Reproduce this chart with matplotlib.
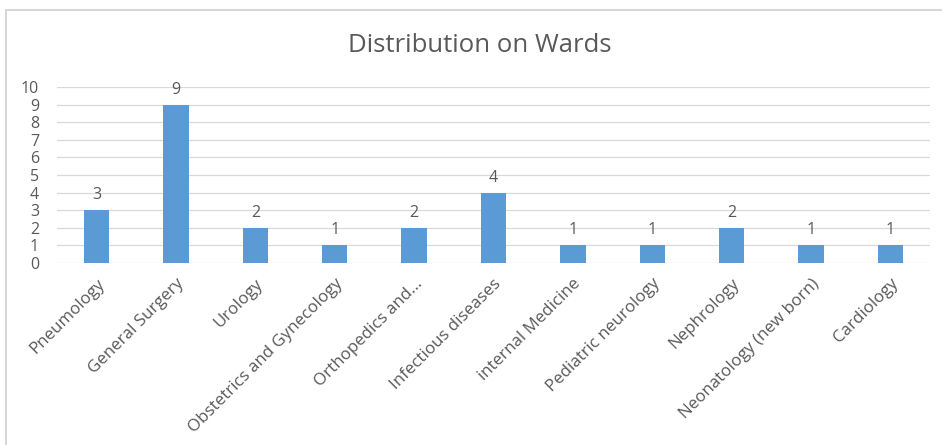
import matplotlib.pyplot as plt
from matplotlib.patches import Rectangle

wards = ["Pneumology", "General Surgery", "Urology", "Obstetrics and Gynecology",
         "Orthopedics and...", "Infectious diseases", "internal Medicine",
         "Pediatric neurology", "Nephrology", "Neonatology (new born)", "Cardiology"]
counts = [3, 9, 2, 1, 2, 4, 1, 1, 2, 1, 1]
y_ticks = list(range(0, 11))

plt.rcParams["font.family"] = ["Open Sans", "DejaVu Sans"]
GREY = "#595959"

fig = plt.figure(figsize=(9.42, 4.45), dpi=100)

# chart frame
fig.patches.append(Rectangle((6 / 942, -0.05), 1.0, 1 - 10 / 445 + 0.05,
                             transform=fig.transFigure, fill=False,
                             edgecolor="#d0d0d0", linewidth=1.2))

ax = fig.add_axes([57 / 942, 1 - 263 / 445, 873 / 942, 176 / 445])
x = range(len(wards))
ax.bar(x, counts, width=0.32, color="#5b9bd5", zorder=3)
for xi, c in zip(x, counts):
    ax.annotate(str(c), (xi, c), xytext=(0, 5), textcoords="offset points",
                ha="center", va="bottom", fontsize=11.5, color=GREY)

ax.set_xlim(-0.5, len(wards) - 0.5)
ax.set_ylim(0, 10)
ax.set_yticks(y_ticks)
ax.grid(axis="y", color="#d9d9d9", linewidth=0.9, zorder=0)
for s in ax.spines.values():
    s.set_visible(False)
ax.tick_params(axis="both", length=0, labelsize=11.5, labelcolor=GREY)
ax.tick_params(axis="y", pad=13)
ax.set_xticks(list(x))
ax.set_xticklabels(wards, rotation=45, ha="right", rotation_mode="anchor",
                   fontsize=12.2)
ax.tick_params(axis="x", pad=9)

fig.text(480 / 942, 1 - 46 / 445, "Distribution on Wards", ha="center",
         va="center", fontsize=18.5, color=GREY)

fig.savefig("out.png", dpi=100)
